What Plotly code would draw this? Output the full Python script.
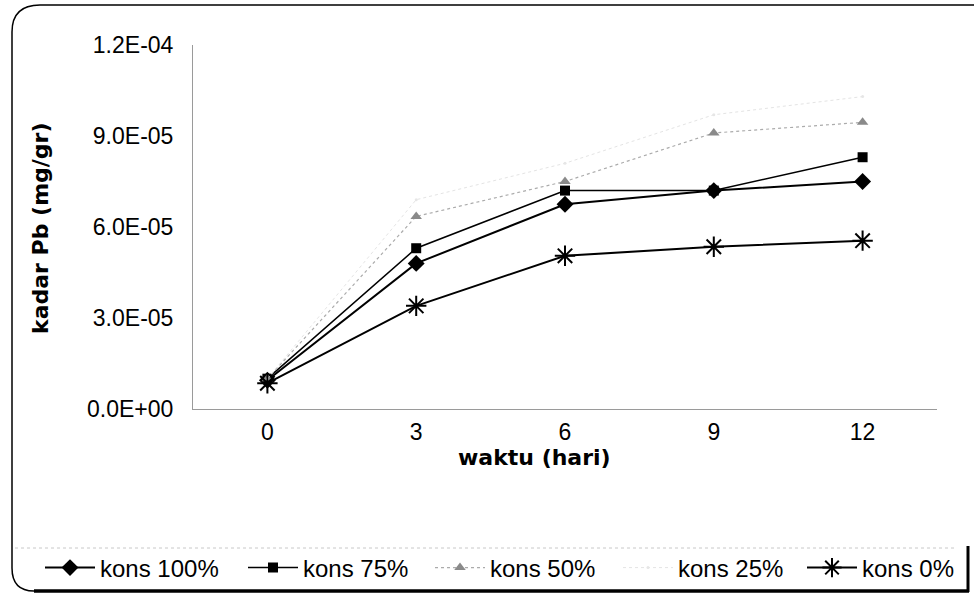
import plotly.graph_objects as go

# ---- data ----
days = ["0", "3", "6", "9", "12"]
kons100 = [9.5e-6, 4.8e-5, 6.75e-5, 7.2e-5, 7.5e-5]
kons75 = [1.0e-5, 5.3e-5, 7.2e-5, 7.2e-5, 8.3e-5]
kons50 = [1.0e-5, 6.35e-5, 7.5e-5, 9.1e-5, 9.45e-5]
kons25 = [1.0e-5, 6.9e-5, 8.1e-5, 9.7e-5, 1.03e-4]
kons0 = [8.5e-6, 3.4e-5, 5.05e-5, 5.35e-5, 5.55e-5]
ytick_vals = [0, 3e-5, 6e-5, 9e-5, 1.2e-4]
ytick_text = ["0.0E+00", "3.0E-05", "6.0E-05", "9.0E-05", "1.2E-04"]

W, H = 974, 600
L, R, T, B = 193, 37, 45, 191
PW, PH = W - L - R, H - T - B


def px(x):
    return (x - L) / PW


def py(y):
    return (H - B - y) / PH


fig = go.Figure()
fig.add_trace(go.Scatter(x=days, y=kons100, name="kons 100%", mode="lines+markers",
                         line=dict(color="black", width=2),
                         marker=dict(symbol="diamond", size=13, color="black"),
                         legend="legend"))
fig.add_trace(go.Scatter(x=days, y=kons75, name="kons 75%", mode="lines+markers",
                         line=dict(color="black", width=1.5),
                         marker=dict(symbol="square", size=10, color="black"),
                         legend="legend2"))
fig.add_trace(go.Scatter(x=days, y=kons50, name="kons 50%", mode="lines+markers",
                         line=dict(color="#ababab", width=1.2, dash="dot"),
                         marker=dict(symbol="triangle-up", size=10, color="#8a8a8a"),
                         legend="legend2"))
fig.add_trace(go.Scatter(x=days, y=kons25, name="kons 25%", mode="lines+markers",
                         line=dict(color="#e4e4e4", width=1, dash="dot"),
                         marker=dict(symbol="circle", size=3, color="#e6e6e6"),
                         legend="legend3"))
fig.add_trace(go.Scatter(x=days, y=kons0, name="kons 0%", mode="lines+markers",
                         line=dict(color="black", width=2),
                         marker=dict(symbol="asterisk-open", size=17,
                                     line=dict(color="black", width=2)),
                         legend="legend3"))

axis_font = dict(family="Liberation Sans, Arial, sans-serif", size=23, color="black")
fig.update_xaxes(type="category", range=[-0.5, 4.5], showline=True, linecolor="#9a9a9a",
                 linewidth=1, showgrid=False, zeroline=False, ticks="", tickfont=axis_font,
                 ticklabelstandoff=2)
fig.update_yaxes(range=[0, 1.2e-4], tickvals=ytick_vals, ticktext=ytick_text,
                 showline=True, linecolor="#9a9a9a", linewidth=1, showgrid=False,
                 zeroline=False, ticks="", tickfont=axis_font, ticklabelstandoff=14)

title_font = dict(family="DejaVu Sans, sans-serif", size=22, color="black", weight="bold")

# rounded frame and legend separator
frame = (f"M {px(12)},{py(32)} Q {px(12)},{py(5)} {px(40)},{py(5)} L {px(975)},{py(5)} "
         f"M {px(12)},{py(32)} L {px(12)},{py(568)} Q {px(12)},{py(591)} {px(34)},{py(591)}")
shapes = [
    dict(type="path", xref="paper", yref="paper", path=frame,
         line=dict(color="black", width=1.5)),
    dict(type="line", xref="paper", yref="paper", x0=px(34), x1=px(969), y0=py(591), y1=py(591),
         line=dict(color="black", width=3.5)),
    dict(type="line", xref="paper", yref="paper", x0=px(968), x1=px(968), y0=py(546), y1=py(592),
         line=dict(color="black", width=3)),
    dict(type="line", xref="paper", yref="paper", x0=px(15), x1=px(955), y0=py(548), y1=py(548),
         line=dict(color="#c8c8c8", width=1, dash="dot")),
]

annotations = [
    dict(text="waktu (hari)", xref="paper", yref="paper", x=px(534), y=py(457),
         showarrow=False, font=title_font, xanchor="center", yanchor="middle"),
    dict(text="kadar Pb (mg/gr)", xref="paper", yref="paper", x=px(40), y=py(228),
         showarrow=False, font=title_font, textangle=-90, xanchor="center", yanchor="middle"),
]

legend_font = dict(family="Liberation Sans, Arial, sans-serif", size=24, color="black")


def leg(xpix, ew):
    return dict(orientation="h", x=px(xpix), y=py(568), xanchor="left", yanchor="middle",
                font=legend_font, itemwidth=50, entrywidth=ew,
                bgcolor="rgba(0,0,0,0)", tracegroupgap=0)


fig.update_layout(
    width=W, height=H,
    margin=dict(l=L, r=R, t=T, b=B, autoexpand=False),
    paper_bgcolor="white", plot_bgcolor="white",
    showlegend=True,
    legend=leg(40, 145),
    legend2=leg(243, 122),
    legend3=leg(618, 119),
    shapes=shapes,
    annotations=annotations,
)

fig.write_html("out.html")
